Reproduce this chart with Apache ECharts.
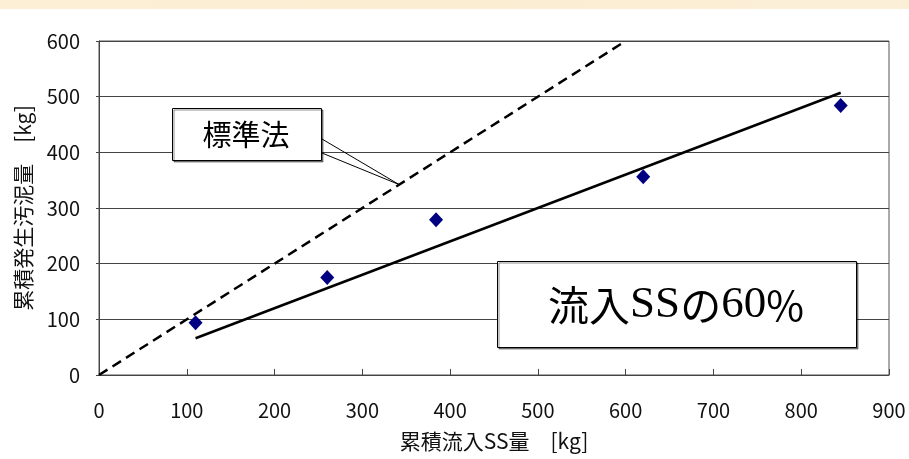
<!DOCTYPE html>
<html>
<head>
<meta charset="utf-8">
<script src="https://cdn.jsdelivr.net/npm/echarts@6/dist/echarts.min.js"></script>
<style>
  html, body { margin: 0; padding: 0; background: #ffffff; }
  #chart { width: 909px; height: 459px; }
</style>
</head>
<body>
<div id="chart"></div>
<script>
// Cumulative inflow SS vs cumulative sludge generation
const inflowSS = [110, 260, 384, 620, 845];          // 累積流入SS量 [kg]
const sludge   = [94, 175, 279, 356, 484];           // 累積発生汚泥量 [kg]

// Reference lines: 60% of inflow SS (solid) and the standard method (dashed)
const line60X  = [110, 845];
const line60Y  = [66, 507];
const stdX     = [0, 600];
const stdY     = [0, 600];

const xTicks = [0, 100, 200, 300, 400, 500, 600, 700, 800, 900];
const yTicks = [0, 100, 200, 300, 400, 500, 600];

// point on the dashed line where the "標準法" callout points
const calloutTip = [342, 342];

const sansJP = '"Noto Sans CJK JP", "Noto Sans", sans-serif';
const serif  = '"Liberation Serif", "DejaVu Serif", serif';

const chart = echarts.init(document.getElementById('chart'), null, { renderer: 'canvas' });

const pairs = (xs, ys) => xs.map((x, i) => [x, ys[i]]);

chart.setOption({
  backgroundColor: '#ffffff',
  animation: false,
  grid: {
    left: 99, right: 20, top: 41, bottom: 84,
    show: true, borderColor: '#555', borderWidth: 1
  },
  xAxis: {
    type: 'value',
    min: xTicks[0], max: xTicks[xTicks.length - 1], interval: 100,
    name: '累積流入SS量　[kg]',
    nameLocation: 'middle', nameGap: 56,
    nameTextStyle: { fontFamily: sansJP, fontSize: 21, color: '#111' },
    axisLine: { show: true, lineStyle: { color: '#444', width: 1 } },
    axisTick: { show: true, inside: true, length: 6, lineStyle: { color: '#444' } },
    axisLabel: { fontFamily: sansJP, fontSize: 20, color: '#111', margin: 25 },
    splitLine: { show: false }
  },
  yAxis: {
    type: 'value',
    min: yTicks[0], max: yTicks[yTicks.length - 1], interval: 100,
    name: '累積発生汚泥量　[kg]',
    nameLocation: 'middle', nameGap: 65,
    nameTextStyle: { fontFamily: sansJP, fontSize: 21, color: '#111' },
    axisLine: { show: true, lineStyle: { color: '#444', width: 1 } },
    axisTick: { show: true, inside: false, length: 3, lineStyle: { color: '#444' } },
    axisLabel: { fontFamily: sansJP, fontSize: 20, color: '#111', margin: 19 },
    splitLine: { show: true, lineStyle: { color: '#444', width: 1 } }
  },
  series: [
    {
      name: '標準法',
      type: 'line',
      data: pairs(stdX, stdY),
      symbol: 'none',
      lineStyle: { color: '#000', width: 2.5, type: [10, 6] },
      z: 3
    },
    {
      name: '流入SSの60%',
      type: 'line',
      data: pairs(line60X, line60Y),
      symbol: 'none',
      lineStyle: { color: '#000', width: 2.5 },
      z: 3
    },
    {
      name: '実測',
      type: 'scatter',
      data: pairs(inflowSS, sludge),
      symbol: 'diamond',
      symbolSize: [14, 15],
      itemStyle: { color: '#000080', opacity: 1 },
      z: 4
    }
  ]
});

const tip = chart.convertToPixel({ gridIndex: 0 }, calloutTip);

chart.setOption({
  graphic: [
    // decorative band along the top edge
    {
      type: 'rect', left: 0, top: 0, z: 1,
      shape: { width: 909, height: 9 },
      style: {
        fill: new echarts.graphic.LinearGradient(0, 0, 1, 0, [
          { offset: 0, color: '#fcefd6' },
          { offset: 0.5, color: '#fbedd2' },
          { offset: 1, color: '#fcefd8' }
        ])
      }
    },
    // callout pointer
    {
      type: 'polyline', z: 10,
      shape: { points: [[322, 139], tip, [322, 153]] },
      style: { stroke: '#000', lineWidth: 1, fill: null }
    },
    // "標準法" callout box
    {
      type: 'rect', z: 11,
      shape: { x: 172.5, y: 108.5, width: 149, height: 52 },
      style: {
        fill: '#fff', stroke: '#000', lineWidth: 1,
        shadowColor: 'rgba(0,0,0,0.45)', shadowOffsetX: 1.5, shadowOffsetY: 1.5, shadowBlur: 0
      }
    },
    {
      type: 'text', z: 12,
      x: 246, y: 135,
      style: {
        text: '標準法',
        fontFamily: sansJP, fontSize: 29, fill: '#000',
        align: 'center', verticalAlign: 'middle'
      }
    },
    // "流入SSの60%" label box
    {
      type: 'rect', z: 11,
      shape: { x: 497.5, y: 261.5, width: 359, height: 86 },
      style: {
        fill: '#fff', stroke: '#000', lineWidth: 1,
        shadowColor: 'rgba(0,0,0,0.45)', shadowOffsetX: 1.5, shadowOffsetY: 1.5, shadowBlur: 0
      }
    },
    {
      type: 'text', z: 12,
      x: 676, y: 305,
      style: {
        text: '{j|流入}{s|SS}{j|の}{s|60}{p|%}',
        align: 'center', verticalAlign: 'middle',
        fill: '#000',
        rich: {
          j: { fontFamily: sansJP, fontSize: 41, fill: '#000' },
          s: { fontFamily: serif, fontSize: 45, fill: '#000' },
          p: { fontFamily: sansJP, fontSize: 41, fill: '#000' }
        }
      }
    }
  ]
});
</script>
</body>
</html>
